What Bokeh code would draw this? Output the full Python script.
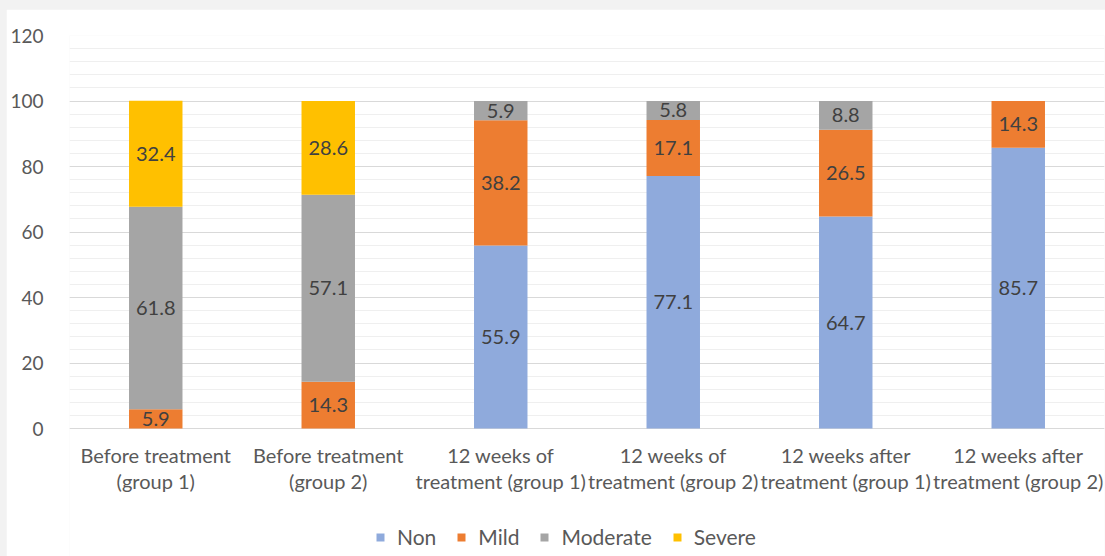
from bokeh.plotting import figure
from bokeh.models import ColumnDataSource, FixedTicker, Legend, LegendItem, Range1d
from bokeh.layouts import column
from bokeh.core.properties import value
from bokeh.embed import file_html
from bokeh.resources import INLINE

categories = ["Before treatment\n(group 1)", "Before treatment\n(group 2)",
              "12 weeks of\ntreatment (group 1)", "12 weeks of\ntreatment (group 2)",
              "12 weeks after\ntreatment (group 1)", "12 weeks after\ntreatment (group 2)"]
series_names = ["Non", "Mild", "Moderate", "Severe"]
non = [0, 0, 55.9, 77.1, 64.7, 85.7]
mild = [5.9, 14.3, 38.2, 17.1, 26.5, 14.3]
moderate = [61.8, 57.1, 5.9, 5.8, 8.8, 0]
severe = [32.4, 28.6, 0, 0, 0, 0]
colors = ["#8FAADC", "#ED7D31", "#A5A5A5", "#FFC000"]
y_ticks = [0, 20, 40, 60, 80, 100, 120]

FONT = "Lato"
series = [non, mild, moderate, severe]
src = ColumnDataSource(dict(cat=categories, Non=non, Mild=mild, Moderate=moderate, Severe=severe))

# frame covers plot area plus the band below it (category labels + legend)
VALUE_PX = 393          # pixel height of 0..120
BELOW_PX = 128          # pixel band under the zero line
y_min = -max(y_ticks) * BELOW_PX / VALUE_PX

p = figure(x_range=categories, y_range=Range1d(y_min, max(y_ticks)),
           frame_width=1035, frame_height=VALUE_PX + BELOW_PX,
           x_axis_location=None, output_backend="svg", toolbar_location=None,
           min_border_left=63, min_border_right=1, min_border_top=26, min_border_bottom=0,
           background_fill_color="white", border_fill_color="white", outline_line_color=None)
p.margin = (9, 0, 0, 6)

renderers = p.vbar_stack(series_names, x="cat", width=0.31, source=src, color=colors, line_color=None)

# data labels
lx, ly, lt = [], [], []
for i, c in enumerate(categories):
    base = 0
    for s in series:
        v = s[i]
        if v > 0:
            lx.append(c); ly.append(base + v / 2); lt.append(f"{v:.1f}")
        base += v
p.text(x=lx, y=ly, text=lt, text_align="center", text_baseline="middle",
       text_font=value(FONT), text_font_size="20px", text_color="#404040")

# category labels under the zero line
p.text(x=categories, y=[0] * len(categories), text=categories, y_offset=14,
       text_align="center", text_baseline="top", text_line_height=1.1,
       text_font=value(FONT), text_font_size="20px", text_color="#595959")

p.yaxis.ticker = FixedTicker(ticks=y_ticks, minor_ticks=list(range(0, 121, 4)))
p.ygrid.grid_line_color = "#d9d9d9"
p.ygrid.minor_grid_line_color = "#efefef"
p.xgrid.grid_line_color = None
p.yaxis.axis_line_color = None
p.yaxis.major_tick_line_color = None
p.yaxis.minor_tick_line_color = None
p.yaxis.major_label_standoff = 20
p.yaxis.major_label_text_font = FONT
p.yaxis.major_label_text_color = "#595959"
p.yaxis.major_label_text_font_size = "19px"

legend = Legend(items=[LegendItem(label=n, renderers=[r]) for n, r in zip(series_names, renderers)],
                orientation="horizontal", location=(306, 7),
                label_text_font=FONT, label_text_font_size="21px", label_text_color="#595959",
                glyph_width=10, glyph_height=10, label_standoff=12, spacing=20,
                padding=0, margin=0, border_line_color=None, background_fill_alpha=0)
p.add_layout(legend, "center")

layout = column(p, width=1105, styles={"background-color": "#f2f2f2"})
open("out.html", "w").write(file_html(layout, INLINE))
